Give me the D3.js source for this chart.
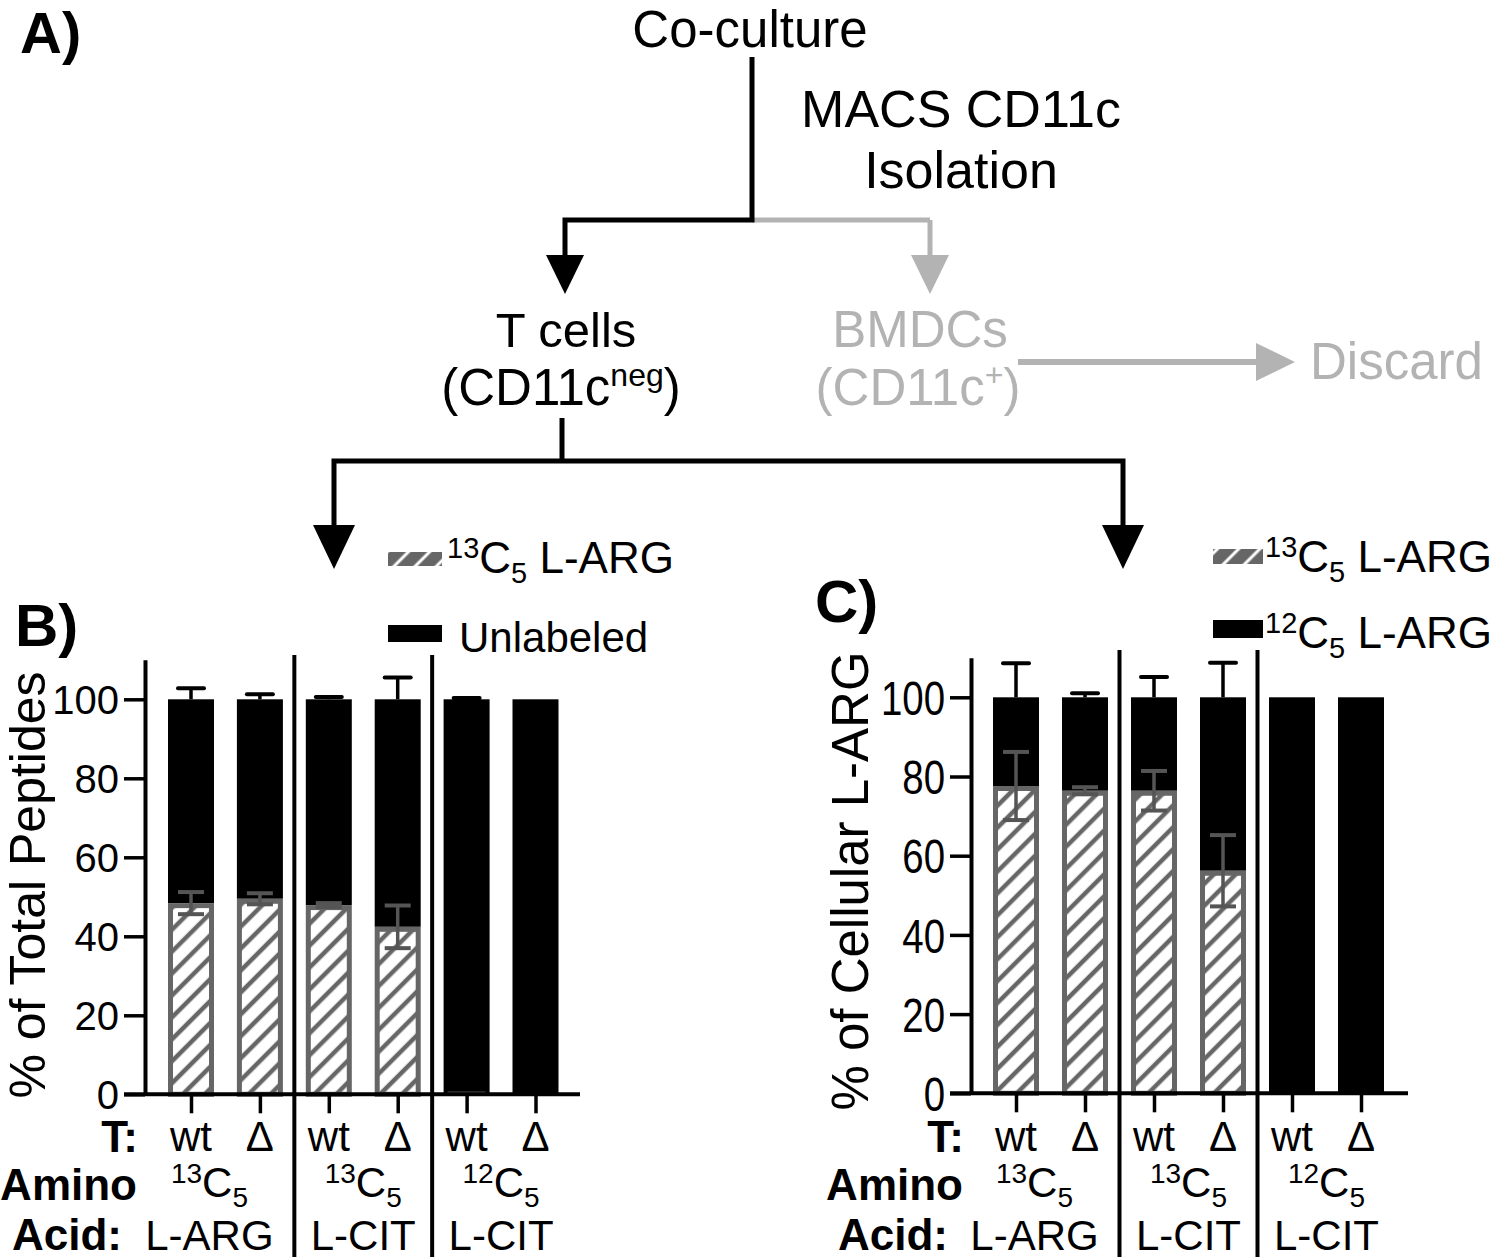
<!DOCTYPE html>
<html><head><meta charset="utf-8">
<script src="https://cdn.jsdelivr.net/npm/d3@7"></script>
<style>body{margin:0;background:#fff}svg{display:block;font-family:"Liberation Sans",Arial,sans-serif}</style>
</head><body>
<svg id="c" width="1500" height="1259"></svg>
<script>
// ---------- data ----------
const genotypes = ["wt", "Δ", "wt", "Δ", "wt", "Δ"];
const groupMass = ["13", "13", "12"];
const groupAcid = ["L-ARG", "L-CIT", "L-CIT"];
const yTicks = [0, 20, 40, 60, 80, 100];

// Panel B: % of total peptides
const bLabeled      = [48.4, 49.5, 47.9, 42.4, 0.3, 0];
const bLabeledErr   = [2.8, 1.4, 0.5, 5.4, 0.3, 0];
const bUnlabeled    = [51.6, 50.5, 52.1, 57.6, 99.7, 100];
const bUnlabeledErr = [2.8, 1.3, 0.6, 5.5, 0.3, 0];

// Panel C: % of cellular L-ARG
const c13    = [77.6, 76.4, 76.4, 56.2, 0, 0];
const c13Err = [8.6, 0.9, 5.0, 9.0, 0, 0];
const c12    = [22.4, 23.6, 23.6, 43.8, 100, 100];
const c12Err = [8.6, 1.0, 5.1, 8.7, 0, 0];

// ---------- drawing ----------
const svg = d3.select("#c");
const GRAY = "#b3b3b3", HATCH = "#666";
const defs = svg.append("defs");
const pat = defs.append("pattern").attr("id","hatch").attr("patternUnits","userSpaceOnUse")
  .attr("width",15.5).attr("height",20).attr("patternTransform","rotate(45)");
pat.append("rect").attr("width",15.5).attr("height",20).attr("fill","#fff");
pat.append("line").attr("x1",4).attr("x2",4).attr("y1",0).attr("y2",20).attr("stroke",HATCH).attr("stroke-width",4.5);
const pat2 = defs.append("pattern").attr("id","hatchLeg").attr("patternUnits","userSpaceOnUse")
  .attr("width",15).attr("height",20).attr("patternTransform","rotate(45)");
pat2.append("rect").attr("width",15).attr("height",20).attr("fill",HATCH);
pat2.append("line").attr("x1",4).attr("x2",4).attr("y1",0).attr("y2",20).attr("stroke","#fff").attr("stroke-width",3);

function txt(x, y, s, o = {}) {
  return svg.append("text").attr("x", x).attr("y", y).text(s)
    .attr("font-size", o.size || 46).attr("font-weight", o.bold ? "bold" : null)
    .attr("fill", o.fill || "#000").attr("text-anchor", o.anchor || "start");
}

// ---- Panel A: flow diagram ----
txt(20, 53, "A)", {size: 58, bold: true});
txt(750, 47, "Co-culture", {size: 51, anchor: "middle"});
txt(961, 127, "MACS CD11c", {size: 52, anchor: "middle"});
txt(961, 188, "Isolation", {size: 52, anchor: "middle"});
const ln = (pts, col, w) => svg.append("path").attr("d", d3.line()(pts)).attr("fill","none")
  .attr("stroke", col).attr("stroke-width", w).attr("stroke-linejoin","miter");
const tri = (pts, col) => svg.append("path").attr("d", d3.line()(pts) + "Z").attr("fill", col);
ln([[930,220],[930,258]], GRAY, 5);
ln([[752,220],[930,220]], GRAY, 5);
ln([[752,57],[752,220],[565,220],[565,258]], "#000", 5);
tri([[546,255],[584,255],[565,294]], "#000");
tri([[911,255],[949,255],[930,294]], GRAY);

txt(566, 347, "T cells", {size: 49, anchor: "middle"});
const cd = svg.append("text").attr("x", 561).attr("y", 405).attr("font-size", 51).attr("text-anchor","middle");
cd.append("tspan").text("(CD11c");
cd.append("tspan").text("neg").attr("font-size", 32).attr("dy", -19);
cd.append("tspan").text(")").attr("dy", 19);
txt(920, 347, "BMDCs", {size: 51, anchor: "middle", fill: GRAY});
const cd2 = svg.append("text").attr("x", 918).attr("y", 405).attr("font-size", 51).attr("text-anchor","middle").attr("fill", GRAY);
cd2.append("tspan").text("(CD11c");
cd2.append("tspan").text("+").attr("font-size", 32).attr("dy", -19);
cd2.append("tspan").text(")").attr("dy", 19);
ln([[1018,362],[1262,362]], GRAY, 6);
tri([[1256,343],[1256,381],[1295,362]], GRAY);
txt(1310, 379, "Discard", {size: 51, fill: GRAY});

ln([[562,418],[562,461]], "#000", 5);
ln([[334,530],[334,461],[1123,461],[1123,530]], "#000", 5);
tri([[313,525],[355,525],[334,569]], "#000");
tri([[1102,525],[1144,525],[1123,569]], "#000");

// ---- Bar panels ----
function legendLabel(x, y, mass, rest) {
  const t = svg.append("text").attr("x", x).attr("y", y).attr("font-size", 44);
  t.append("tspan").text(mass).attr("font-size", 29).attr("dy", -15);
  t.append("tspan").text("C").attr("dy", 15);
  t.append("tspan").text("5").attr("font-size", 29).attr("dy", 10);
  t.append("tspan").text(" " + rest).attr("dy", -10);
}

function panel(o) {
  const g = svg.append("g");
  const y = d3.scaleLinear().domain([0, 110]).range([o.y0, o.y0 - o.h100 * 1.1]);
  const x = d3.scalePoint().domain(d3.range(genotypes.length)).range([o.x0, o.x1]);
  const bw = 46;
  genotypes.forEach((gname, i) => {
    const a = o.lab[i], b = o.unl[i];
    g.append("rect").attr("x", x(i) - bw/2).attr("width", bw)
      .attr("y", y(a + b)).attr("height", y(a) - y(a + b)).attr("fill", "#000");
    if (a > 0.5) {
      g.append("rect").attr("x", x(i) - bw/2 + 2.5).attr("width", bw - 5)
        .attr("y", y(a) + 2.5).attr("height", y(0) - y(a) - 2.5)
        .attr("fill", "url(#hatch)").attr("stroke", HATCH).attr("stroke-width", 5);
    } else if (a > 0) {
      g.append("rect").attr("x", x(i) - bw/2 + 4).attr("width", bw - 8)
        .attr("y", y(a) - 1.5).attr("height", 3).attr("fill", HATCH);
    }
    const eu = o.unlErr[i];
    if (eu > 0) {
      g.append("line").attr("x1", x(i)).attr("x2", x(i)).attr("y1", y(a + b)).attr("y2", y(a + b + eu))
        .attr("stroke", "#000").attr("stroke-width", 3.5);
      g.append("line").attr("x1", x(i) - 13).attr("x2", x(i) + 13).attr("y1", y(a + b + eu)).attr("y2", y(a + b + eu))
        .attr("stroke", "#000").attr("stroke-width", 4).attr("stroke-linecap","round");
    }
    const el = o.labErr[i];
    if (el > 0 && a > 0.5) {
      g.append("line").attr("x1", x(i)).attr("x2", x(i)).attr("y1", y(a - el)).attr("y2", y(a + el))
        .attr("stroke", "#555").attr("stroke-width", 3.5);
      [a - el, a + el].forEach(v => g.append("line").attr("x1", x(i) - 13).attr("x2", x(i) + 13)
        .attr("y1", y(v)).attr("y2", y(v)).attr("stroke", "#555").attr("stroke-width", 4));
    }
  });
  // y axis
  const ya = g.append("g").attr("transform", `translate(${o.ax},0)`)
    .call(d3.axisLeft(y).tickValues(yTicks).tickSize(21).tickSizeOuter(0).tickPadding(5));
  ya.select(".domain").attr("stroke-width", 4);
  ya.selectAll(".tick line").attr("stroke-width", 3.5);
  ya.selectAll(".tick text").attr("font-size", o.tickSize).attr("font-family", "Liberation Sans, Arial, sans-serif")
    .attr("fill", "#000").attr("dy", "0.36em");
  if (o.tickScaleX) {
    ya.selectAll(".tick text").each(function() {
      const t = d3.select(this);
      const xx = +t.attr("x");
      t.attr("x", xx / o.tickScaleX).attr("transform", `scale(${o.tickScaleX},1)`);
    });
  }
  // x axis line + ticks
  g.append("line").attr("x1", o.ax - 21).attr("x2", o.xEnd).attr("y1", y(0)).attr("y2", y(0))
    .attr("stroke", "#000").attr("stroke-width", 4);
  const xa = g.append("g").attr("transform", `translate(0,${y(0)})`)
    .call(d3.axisBottom(x).tickSize(19).tickFormat(""));
  xa.select(".domain").remove();
  xa.selectAll(".tick line").attr("stroke-width", 3.5);
  [1.5, 3.5].forEach(k => {
    const sx = (x(Math.floor(k)) + x(Math.ceil(k))) / 2;
    g.append("line").attr("x1", sx).attr("x2", sx).attr("y1", o.sepTop).attr("y2", 1257)
      .attr("stroke", "#000").attr("stroke-width", 4);
  });
  genotypes.forEach((gname, i) => {
    g.append("text").attr("x", x(i)).attr("y", 1151).attr("text-anchor", "middle")
      .attr("font-size", 42).text(gname);
  });
  txt(o.ax - 7, 1152, "T:", {size: 44, bold: true, anchor: "end"});
  txt(o.ax - 8, 1200, "Amino", {size: 44, bold: true, anchor: "end"});
  txt(o.ax - 23, 1250, "Acid:", {size: 44, bold: true, anchor: "end"});
  groupMass.forEach((m, k) => {
    const cx = (x(2*k) + x(2*k+1)) / 2 + (k === 0 ? -16 : 0);
    const t = g.append("text").attr("x", cx).attr("y", 1197).attr("text-anchor", "middle").attr("font-size", 42);
    t.append("tspan").text(m).attr("font-size", 28).attr("dy", -14);
    t.append("tspan").text("C").attr("dy", 14);
    t.append("tspan").text("5").attr("font-size", 28).attr("dy", 10);
    g.append("text").attr("x", cx).attr("y", 1250).attr("text-anchor", "middle")
      .attr("font-size", 42).text(groupAcid[k]);
  });
  svg.append("text").attr("transform", `translate(${o.titleX},${o.titleY}) rotate(-90)`)
    .attr("text-anchor", "middle").attr("font-size", o.titleSize).text(o.title);
}

panel({x0: 191, x1: 535.5, ax: 145, xEnd: 580, y0: 1094.3, h100: 395, sepTop: 655,
  lab: bLabeled, labErr: bLabeledErr, unl: bUnlabeled, unlErr: bUnlabeledErr,
  tickSize: 40, title: "% of Total Peptides", titleX: 45, titleY: 885, titleSize: 50});
panel({x0: 1016, x1: 1361, ax: 971, xEnd: 1408, y0: 1093.3, h100: 396, sepTop: 650,
  lab: c13, labErr: c13Err, unl: c12, unlErr: c12Err, tickScaleX: 0.8,
  tickSize: 48, title: "% of Cellular L-ARG", titleX: 868, titleY: 881, titleSize: 51});

txt(15, 646, "B)", {size: 60, bold: true});
txt(815, 622, "C)", {size: 60, bold: true});
svg.append("rect").attr("x", 388).attr("y", 552).attr("width", 54).attr("height", 14).attr("fill", "url(#hatchLeg)");
legendLabel(447, 573, "13", "L-ARG");
svg.append("rect").attr("x", 388).attr("y", 625).attr("width", 54).attr("height", 17).attr("fill", "#000");
txt(459, 652, "Unlabeled", {size: 42});
svg.append("rect").attr("x", 1213).attr("y", 549).attr("width", 50).attr("height", 15).attr("fill", "url(#hatchLeg)");
legendLabel(1265, 572, "13", "L-ARG");
svg.append("rect").attr("x", 1213).attr("y", 620).attr("width", 50).attr("height", 18).attr("fill", "#000");
legendLabel(1265, 648, "12", "L-ARG");
</script>
</body></html>
